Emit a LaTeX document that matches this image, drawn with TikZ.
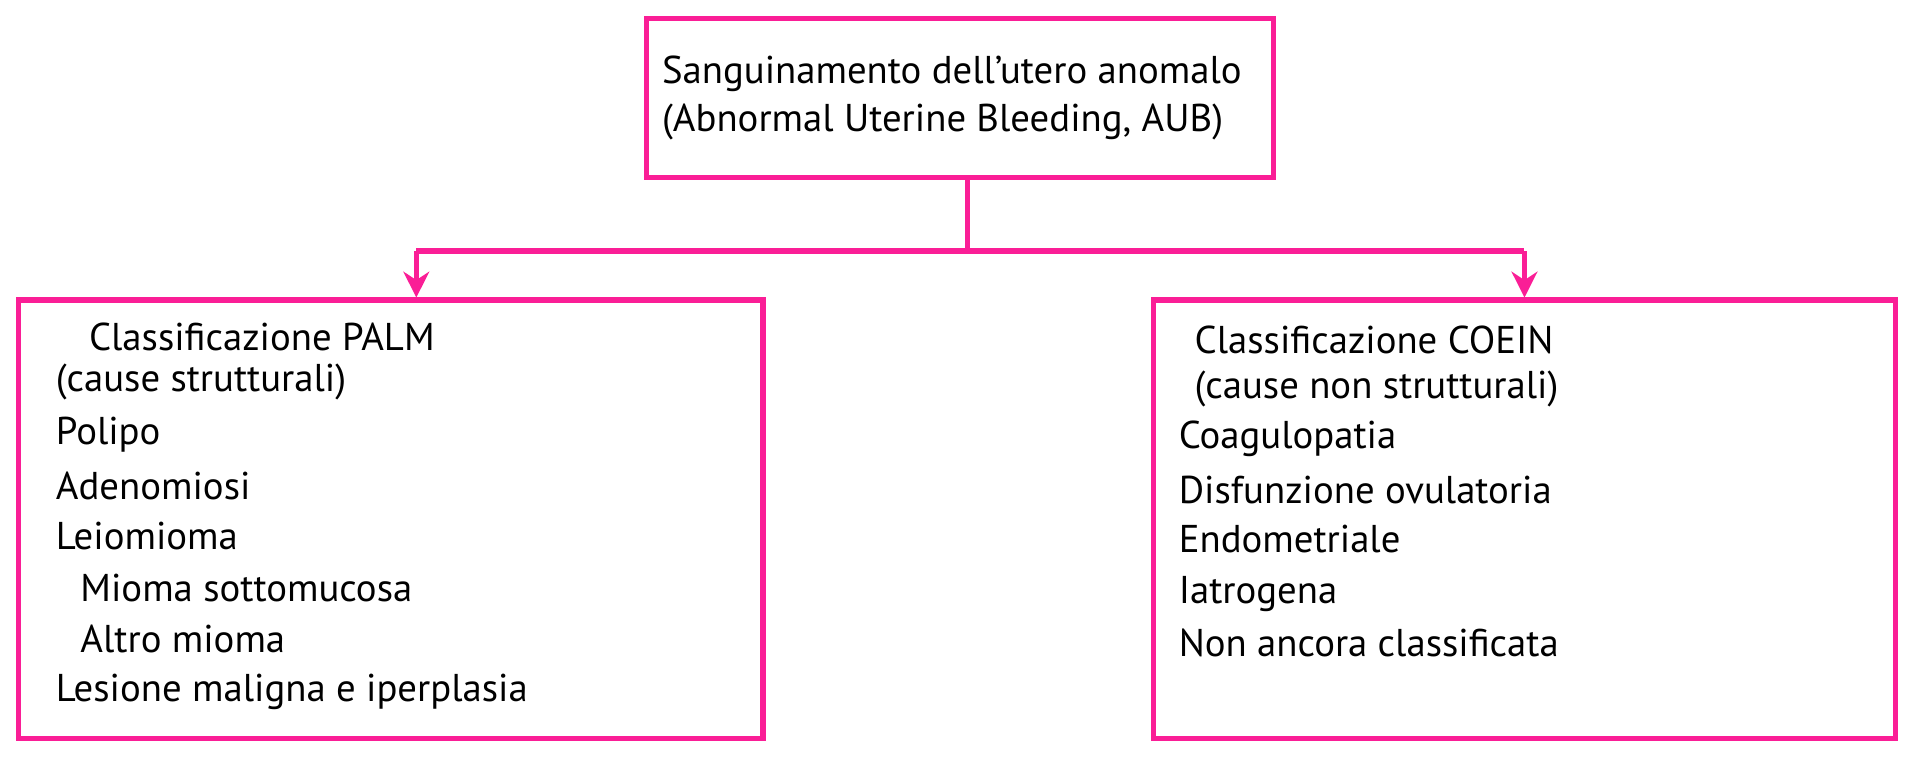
\documentclass[tikz,border=0pt]{standalone}
\usepackage{fontspec}
\usetikzlibrary{arrows.meta}
\setmainfont{PT Sans}
\definecolor{mag}{RGB}{250,30,150}
\begin{document}
\begin{tikzpicture}[x=0.01cm,y=-0.01cm,
  box/.style={draw=mag,line width=1.3pt,fill=white,inner sep=0},
  conn/.style={draw=mag,line width=1.3pt},
  arr/.style={conn,-{Stealth[length=6pt,width=6pt]}},
  txt/.style={anchor=west,inner sep=0,font=\fontsize{9pt}{11pt}\selectfont}]
\useasboundingbox (0,0) rectangle (1568,619);
\draw[box] (528,15) rectangle (1040,145);
\draw[box] (15,245) rectangle (623,603);
\draw[box] (942,245) rectangle (1548,603);
\coordinate (top) at (790,145);
\coordinate (j) at (790,205);
\coordinate (jl) at (340,205);
\coordinate (jr) at (1245,205);
\coordinate (l) at (340,243);
\coordinate (r) at (1245,243);
\draw[conn] (top) -- (j);
\draw[conn] (jl) -- (jr);
\draw[arr] (jl) -- (l);
\draw[arr] (jr) -- (r);
\node[txt] (t1) at (540,60) {Sanguinamento dell’utero anomalo};
\node[txt] (t2) at (540,100) {(Abnormal Uterine Bleeding, AUB)};
\node[txt] (a1) at (72,275) {Classificazione PALM};
\node[txt] (a2) at (45,312) {(cause strutturali)};
\node[txt] (a3) at (45,355) {Polipo};
\node[txt] (a4) at (45,397) {Adenomiosi};
\node[txt] (a5) at (45,438) {Leiomioma};
\node[txt] (a6) at (65,480) {Mioma sottomucosa};
\node[txt] (a7) at (65,522) {Altro mioma};
\node[txt] (a8) at (45,565) {Lesione maligna e iperplasia};
\node[txt] (b1) at (975,278) {Classificazione COEIN};
\node[txt] (b2) at (975,318) {(cause non strutturali)};
\node[txt] (b3) at (962,358) {Coagulopatia};
\node[txt] (b4) at (962,400) {Disfunzione ovulatoria};
\node[txt] (b5) at (962,440) {Endometriale};
\node[txt] (b6) at (962,485) {Iatrogena};
\node[txt] (b7) at (962,525) {Non ancora classificata};
\end{tikzpicture}
\end{document}
